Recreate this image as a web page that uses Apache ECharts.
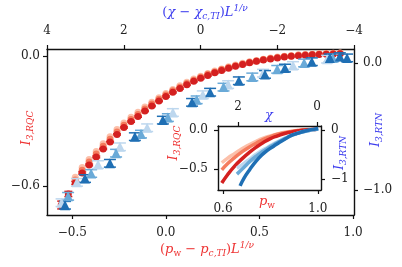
<!DOCTYPE html>
<html><head><meta charset="utf-8">
<script src="https://cdn.jsdelivr.net/npm/echarts@6/dist/echarts.min.js"></script>
<style>html,body{margin:0;padding:0;background:#fff}#c{width:402px;height:267px}</style>
</head><body><div id="c"></div>
<script>
// ---- main plot: red (bottom/left axes) ----
const redX = [-0.559,-0.521,-0.484,-0.447,-0.410,-0.372,-0.335,-0.298,-0.261,-0.224,-0.186,-0.149,-0.112,-0.075,-0.037,0.000,0.037,0.075,0.112,0.149,0.186,0.224,0.261,0.298,0.335,0.372,0.410,0.447,0.484,0.521,0.559,0.596,0.633,0.670,0.708,0.745,0.782,0.819,0.857,0.894,0.931];
const redDark = [-0.688,-0.637,-0.586,-0.540,-0.503,-0.466,-0.429,-0.397,-0.362,-0.330,-0.303,-0.280,-0.254,-0.231,-0.208,-0.187,-0.168,-0.150,-0.133,-0.117,-0.103,-0.090,-0.078,-0.067,-0.057,-0.048,-0.040,-0.032,-0.025,-0.019,-0.014,-0.009,-0.005,-0.002,0.001,0.003,0.005,0.007,0.008,0.009,0.010];
const redMid = [null,null,-0.572,-0.527,-0.490,-0.453,-0.417,-0.385,-0.351,-0.320,-0.293,-0.270,-0.245,-0.222,-0.200,-0.180,-0.161,-0.144,-0.127,-0.112,-0.098,-0.085,-0.074,-0.063,-0.053,-0.045,-0.037,-0.029,-0.023,-0.017,-0.012,-0.007,-0.003,0.000,0.003,0.005,0.007,0.009,0.010,0.011,0.012];
const redLight = [null,null,-0.560,-0.515,-0.478,-0.441,-0.405,-0.373,-0.340,-0.310,-0.283,-0.260,-0.236,-0.214,-0.193,-0.173,-0.155,-0.138,-0.122,-0.107,-0.094,-0.081,-0.070,-0.060,-0.050,-0.042,-0.034,-0.027,-0.021,-0.015,-0.010,-0.005,-0.001,0.002,0.005,0.007,0.009,0.010,0.011,0.012,0.013];
const redDarkErr = [0.018,0.012,0.007,0.005,0.004,0.004,0.003,0.003,0.003,0.003,0.003,0.003,0.003,0.003,0.003,0.003,0.003,0.003,0.003,0.003,0.003,0.003,0.003,0.003,0.003,0.003,0.003,0.003,0.003,0.003,0.003,0.003,0.003,0.003,0.003,0.003,0.003,0.003,0.003,0.003,0.003];

// ---- main plot: blue (top/right axes) ----
const blueDarkX = [3.53,3.01,2.36,1.71,0.98,0.22,-0.25,-1.00,-1.68,-2.20,-2.90,-3.37,-3.63,-3.82];
const blueDarkY = [-1.12,-0.91,-0.79,-0.58,-0.45,-0.31,-0.23,-0.14,-0.09,-0.04,0.01,0.04,0.05,0.04];
const blueDarkErr = [0.03,0.03,0.03,0.03,0.03,0.03,0.03,0.03,0.03,0.03,0.03,0.03,0.03,0.03];
const blueMidX = [3.45,2.85,2.20,1.55,0.85,0.10,-0.60,-1.35,-2.00,-2.70,-3.45];
const blueMidY = [-1.05,-0.87,-0.71,-0.56,-0.43,-0.29,-0.19,-0.11,-0.05,0.00,0.04];
const blueMidErr = [0.03,0.03,0.03,0.03,0.03,0.03,0.03,0.03,0.03,0.03,0.03];
const blueLightX = [3.62,3.22,2.67,2.10,1.39,0.72,-0.06,-0.72,-1.63,-2.41,-3.30];
const blueLightY = [-1.10,-0.94,-0.80,-0.66,-0.51,-0.39,-0.25,-0.17,-0.08,-0.02,0.03];
const blueLightErr = [0.03,0.03,0.03,0.03,0.03,0.03,0.03,0.03,0.03,0.03,0.03];

// ---- inset ----
const insetPw = [0.595,0.62,0.65,0.68,0.71,0.74,0.77,0.80,0.83,0.86,0.89,0.92,0.95,0.98,0.995];
const insetRedDark = [-0.68,-0.57,-0.46,-0.37,-0.29,-0.22,-0.16,-0.11,-0.075,-0.045,-0.025,-0.01,0.0,0.005,0.008];
const insetRedMid = [-0.51,-0.43,-0.35,-0.28,-0.22,-0.17,-0.12,-0.085,-0.055,-0.035,-0.018,-0.006,0.002,0.006,0.008];
const insetRedLight = [-0.42,-0.36,-0.30,-0.24,-0.19,-0.145,-0.105,-0.075,-0.05,-0.03,-0.015,-0.005,0.002,0.006,0.008];
const insetChiDark = [1.95,1.85,1.7,1.55,1.4,1.25,1.1,0.95,0.8,0.65,0.5,0.35,0.2,0.05,-0.03];
const insetBlueDark = [-1.14,-0.98,-0.80,-0.64,-0.51,-0.41,-0.33,-0.25,-0.18,-0.11,-0.07,-0.03,0.0,0.02,0.03];
const insetChiLight = [2.03,1.85,1.7,1.55,1.4,1.25,1.1,0.95,0.8,0.65,0.5,0.35,0.2,0.05,-0.03];
const insetBlueMid = [-0.90,-0.76,-0.64,-0.54,-0.45,-0.37,-0.30,-0.23,-0.17,-0.11,-0.07,-0.035,-0.01,0.01,0.02];
const insetBlueLight = [-0.78,-0.68,-0.59,-0.50,-0.42,-0.35,-0.28,-0.22,-0.16,-0.11,-0.07,-0.035,-0.01,0.01,0.02];

// tick values
const mainBottomTicks = [-0.5,0.0,0.5,1.0];
const mainTopTicks = [4,2,0,-2,-4];
const mainLeftTicks = [0.0,-0.6];
const mainRightTicks = [0.0,-1.0];
const insetBottomTicks = [0.6,1.0];
const insetTopTicks = [2,0];
const insetLeftTicks = [0.0,-0.5];
const insetRightTicks = [0,-1];

const C = {
  rD:'#d42020', rM:'#f57c5e', rL:'#fcc0aa',
  bD:'#1f6fb4', bM:'#6aaad8', bL:'#bdd7ee',
  txtR:'#ee3333', txtB:'#3b3bee'
};
const FF = 'DejaVu Serif';
const fmt1 = v => v.toFixed(1).replace('-', '\u2212');
const fmt0 = v => String(Math.round(v)).replace('-', '\u2212');

function axis(o) {
  const base = {
    type:'value', splitLine:{show:false},
    axisLine:{show:true, onZero:false, lineStyle:{color:'#111', width:1.4}},
    axisTick:{show:true, length:4, inside:false, customValues:o.ticks, lineStyle:{color:'#111', width:1.2}},
    axisLabel:{show:true, customValues:o.ticks, formatter:o.fmt, fontFamily:FF, fontSize:12, color:'#222', margin:o.margin, showMinLabel:true, showMaxLabel:true}
  };
  delete o.ticks; delete o.fmt; delete o.margin;
  return Object.assign(base, o);
}
const zip = (xs, ys) => xs.map((x,i)=>[x, ys[i]]);
function errSeries(xs, ys, es, xi, yi, color, cap, z) {
  return {
    type:'custom', xAxisIndex:xi, yAxisIndex:yi, z:z,
    data: xs.map((x,i)=>[x, ys[i], es[i]]).filter(d=>d[1]!==null),
    encode:{x:0, y:1},
    renderItem:(params, api)=>{
      const x=api.value(0), y=api.value(1), e=api.value(2);
      const a=api.coord([x,y+e]), b=api.coord([x,y-e]);
      const st={stroke:color, lineWidth:1.5};
      return {type:'group', children:[
        {type:'line', shape:{x1:a[0],y1:a[1],x2:b[0],y2:b[1]}, style:st},
        {type:'line', shape:{x1:a[0]-cap,y1:a[1],x2:a[0]+cap,y2:a[1]}, style:st},
        {type:'line', shape:{x1:b[0]-cap,y1:b[1],x2:b[0]+cap,y2:b[1]}, style:st}
      ]};
    }
  };
}
function sc(xs, ys, xi, yi, color, sym, size, z) {
  return {type:'scatter', xAxisIndex:xi, yAxisIndex:yi, z:z, symbol:sym, symbolSize:size,
    itemStyle:{color:color, opacity:1}, data: zip(xs, ys).filter(d=>d[1]!==null), animation:false};
}
function ln(xs, ys, xi, yi, color) {
  return {type:'line', xAxisIndex:xi, yAxisIndex:yi, z:9, symbol:'none', smooth:true,
    lineStyle:{color:color, width:3.5}, data: zip(xs, ys), animation:false};
}
function rt(x, y, text, rich, color, rot) {
  return {type:'text', x:x, y:y, rotation:rot||0, z:20,
    style:{text:text, rich:rich, fill:color, align:'center', verticalAlign:'middle'}};
}
function mathRich(color, big, small) {
  return {
    m:{fontFamily:FF, fontStyle:'italic', fontSize:big, lineHeight:big+4, color:color},
    n:{fontFamily:FF, fontSize:big, lineHeight:big+4, color:color},
    s:{fontFamily:FF, fontStyle:'italic', fontSize:small, lineHeight:small+1, verticalAlign:'bottom', color:color},
    r:{fontFamily:FF, fontSize:small, lineHeight:small+1, verticalAlign:'bottom', color:color},
    u:{fontFamily:FF, fontStyle:'italic', fontSize:small, lineHeight:small+1, verticalAlign:'top', color:color}
  };
}

const chart = echarts.init(document.getElementById('c'), null, {renderer:'canvas'});
chart.setOption({
  animation:false,
  backgroundColor:'#fff',
  grid:[
    {left:47, top:49, width:307, height:166, show:false},
    {left:218, top:126, width:103, height:64, show:true, backgroundColor:'#fff', borderWidth:0, z:5}
  ],
  xAxis:[
    axis({gridIndex:0, position:'bottom', min:-0.635, max:1.005, ticks:mainBottomTicks, fmt:fmt1, margin:12}),
    axis({gridIndex:0, position:'top', min:-4, max:4, inverse:true, ticks:mainTopTicks, fmt:fmt0, margin:12}),
    axis({gridIndex:1, position:'bottom', min:0.579, max:1.013, ticks:insetBottomTicks, fmt:fmt1, margin:13, z:8}),
    axis({gridIndex:1, position:'top', min:-0.10, max:2.51, inverse:true, ticks:insetTopTicks, fmt:fmt0, margin:13, z:8})
  ],
  yAxis:[
    axis({gridIndex:0, position:'left', min:-0.734, max:0.032, ticks:mainLeftTicks, fmt:fmt1, margin:7}),
    axis({gridIndex:0, position:'right', min:-1.197, max:0.11, ticks:mainRightTicks, fmt:fmt1, margin:9}),
    axis({gridIndex:1, position:'left', min:-0.769, max:0.051, ticks:insetLeftTicks, fmt:fmt1, margin:10, z:8}),
    axis({gridIndex:1, position:'right', min:-1.224, max:0.082, ticks:insetRightTicks, fmt:fmt0, margin:10, z:8})
  ],
  series:[
    sc(redX, redLight, 0, 0, C.rL, 'circle', 7, 2),
    sc(redX, redMid, 0, 0, C.rM, 'circle', 7, 2),
    errSeries(redX, redDark, redDarkErr, 0, 0, C.rD, 4, 2),
    sc(redX, redDark, 0, 0, C.rD, 'circle', 7, 2),
    errSeries(blueLightX, blueLightY, blueLightErr, 1, 1, C.bL, 6, 3),
    sc(blueLightX, blueLightY, 1, 1, C.bL, 'triangle', 10, 3),
    errSeries(blueMidX, blueMidY, blueMidErr, 1, 1, C.bM, 6, 3),
    sc(blueMidX, blueMidY, 1, 1, C.bM, 'triangle', 10, 3),
    errSeries(blueDarkX, blueDarkY, blueDarkErr, 1, 1, C.bD, 6, 3),
    sc(blueDarkX, blueDarkY, 1, 1, C.bD, 'triangle', 10, 3),
    ln(insetPw, insetRedLight, 2, 2, C.rL),
    ln(insetPw, insetRedMid, 2, 2, C.rM),
    ln(insetPw, insetRedDark, 2, 2, C.rD),
    ln(insetChiLight, insetBlueLight, 3, 3, C.bL),
    ln(insetChiLight, insetBlueMid, 3, 3, C.bM),
    ln(insetChiDark, insetBlueDark, 3, 3, C.bD)
  ],
  graphic:[
    rt(205, 13, '{n|(}{m|\u03c7}{n| \u2212 }{m|\u03c7}{s|c,TI}{n|)}{m|L}{u|1/\u03bd}', mathRich(C.txtB, 13, 9), C.txtB),
    rt(207, 250, '{n|(}{m|p}{r|w}{n| \u2212 }{m|p}{s|c,TI}{n|)}{m|L}{u|1/\u03bd}', mathRich(C.txtR, 13, 9), C.txtR),
    rt(27, 128, '{m|I}{s|3,RQC}', mathRich(C.txtR, 13, 9), C.txtR, Math.PI/2),
    rt(376, 130, '{m|I}{s|3,RTN}', mathRich(C.txtB, 13, 9), C.txtB, Math.PI/2),
    rt(174, 143, '{m|I}{s|3,RQC}', mathRich(C.txtR, 13, 9), C.txtR, Math.PI/2),
    rt(340, 153, '{m|I}{s|3,RTN}', mathRich(C.txtB, 13, 9), C.txtB, Math.PI/2),
    rt(269, 116, '{m|\u03c7}', mathRich(C.txtB, 13, 9), C.txtB),
    rt(267, 202, '{m|p}{r|w}', mathRich(C.txtR, 13, 9), C.txtR)
  ]
});
</script>
</body></html>
